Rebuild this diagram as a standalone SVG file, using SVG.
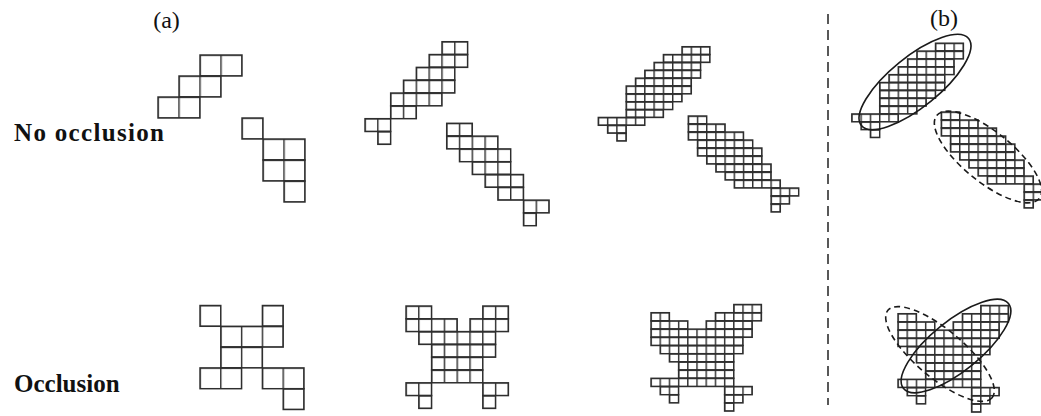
<svg xmlns="http://www.w3.org/2000/svg" xmlns:xlink="http://www.w3.org/1999/xlink" width="1041" height="416" viewBox="0 0 1041 416">
<style>
.cells rect{stroke:#2e2e2e;stroke-width:1.45}
.gl{stroke:#2e2e2e;stroke-width:1.45;fill:none}
.ell{fill:none;stroke:#1a1a1a;stroke-width:1.6}
.dash{stroke-dasharray:6 4}
.lbl{font-family:"Liberation Serif","Times New Roman",serif;fill:#111}
</style>
<defs>
<pattern id="p1" patternUnits="userSpaceOnUse" x="157.3" y="54.3" width="21" height="21"><path class="gl" d="M0.7,0V21M0,0.7H21"/></pattern>
<pattern id="p2" patternUnits="userSpaceOnUse" x="199.3" y="304.8" width="20.8" height="20.8"><path class="gl" d="M0.7,0V20.8M0,0.7H20.8"/></pattern>
<pattern id="p3" patternUnits="userSpaceOnUse" x="364.3" y="41" width="12.83" height="12.83"><path class="gl" d="M0.7,0V12.83M0,0.7H12.83"/></pattern>
<pattern id="p4" patternUnits="userSpaceOnUse" x="446" y="122.6" width="12.8" height="12.8"><path class="gl" d="M0.7,0V12.8M0,0.7H12.8"/></pattern>
<pattern id="p5" patternUnits="userSpaceOnUse" x="405.3" y="305.3" width="12.8" height="12.8"><path class="gl" d="M0.7,0V12.8M0,0.7H12.8"/></pattern>
<pattern id="p6" patternUnits="userSpaceOnUse" x="597.6" y="46" width="9.3" height="7.86"><path class="gl" d="M0.7,0V7.86M0,0.7H9.3"/></pattern>
<pattern id="p7" patternUnits="userSpaceOnUse" x="687.6" y="115.3" width="9.2" height="8"><path class="gl" d="M0.7,0V8M0,0.7H9.2"/></pattern>
<pattern id="p8" patternUnits="userSpaceOnUse" x="650.3" y="303.8" width="9.2" height="8.2"><path class="gl" d="M0.7,0V8.2M0,0.7H9.2"/></pattern>
</defs>
<rect width="1041" height="416" fill="#fff"/>

<g id="labels">
<text class="lbl" x="166.5" y="28" font-size="24" text-anchor="middle">(a)</text>
<text class="lbl" x="944" y="26" font-size="24" text-anchor="middle">(b)</text>
<text class="lbl" x="14" y="141" font-size="25" font-weight="bold" textLength="150" lengthAdjust="spacing">No occlusion</text>
<text class="lbl" x="14" y="392" font-size="25" font-weight="bold">Occlusion</text>
</g>

<g id="connectors">
<line x1="828" y1="14" x2="828" y2="405" stroke="#222" stroke-width="1.5" stroke-dasharray="10 6"/>
</g>

<g id="a-top-1" class="cells" fill="url(#p1)">
<rect x="200" y="55" width="42" height="21"/>
<rect x="179" y="76" width="42" height="21"/>
<rect x="158" y="97" width="42" height="21"/>
<rect x="242" y="118" width="21" height="21"/>
<rect x="263" y="139" width="42" height="21"/>
<rect x="263" y="160" width="42" height="21"/>
<rect x="284" y="181" width="21" height="21"/>
</g>

<g id="a-occ-1" class="cells" fill="url(#p2)">
<rect x="200" y="305.5" width="20.8" height="20.8"/>
<rect x="262.4" y="305.5" width="20.8" height="20.8"/>
<rect x="220.8" y="326.3" width="62.4" height="20.8"/>
<rect x="220.8" y="347.1" width="41.6" height="20.8"/>
<rect x="200" y="367.9" width="41.6" height="20.8"/>
<rect x="262.4" y="367.9" width="41.6" height="20.8"/>
<rect x="283.2" y="388.7" width="20.8" height="20.8"/>
</g>

<g id="a-top-2" class="cells">
<g fill="url(#p3)">
<rect x="441.98" y="41.7" width="25.66" height="12.83"/>
<rect x="429.15" y="54.53" width="38.49" height="12.83"/>
<rect x="416.32" y="67.36" width="38.49" height="12.83"/>
<rect x="403.49" y="80.19" width="51.32" height="12.83"/>
<rect x="390.66" y="93.02" width="51.32" height="12.83"/>
<rect x="390.66" y="105.85" width="25.66" height="12.83"/>
<rect x="365" y="118.68" width="25.66" height="12.83"/>
<rect x="377.83" y="131.51" width="12.83" height="12.83"/>
</g>
<g fill="url(#p4)">
<rect x="446.7" y="123.3" width="25.6" height="12.8"/>
<rect x="446.7" y="136.1" width="51.2" height="12.8"/>
<rect x="459.5" y="148.9" width="51.2" height="12.8"/>
<rect x="472.3" y="161.7" width="38.4" height="12.8"/>
<rect x="485.1" y="174.5" width="38.4" height="12.8"/>
<rect x="497.9" y="187.3" width="25.6" height="12.8"/>
<rect x="523.5" y="200.1" width="25.6" height="12.8"/>
<rect x="523.5" y="212.9" width="12.8" height="12.8"/>
</g>
</g>

<g id="a-occ-2" class="cells" fill="url(#p5)">
<rect x="406" y="306" width="25.6" height="12.8"/>
<rect x="482.8" y="306" width="25.6" height="12.8"/>
<rect x="406" y="318.8" width="51.2" height="12.8"/>
<rect x="470" y="318.8" width="38.4" height="12.8"/>
<rect x="418.8" y="331.6" width="76.8" height="12.8"/>
<rect x="431.6" y="344.4" width="64" height="12.8"/>
<rect x="431.6" y="357.2" width="51.2" height="12.8"/>
<rect x="431.6" y="370" width="51.2" height="12.8"/>
<rect x="406" y="382.8" width="25.6" height="12.8"/>
<rect x="482.8" y="382.8" width="25.6" height="12.8"/>
<rect x="418.8" y="395.6" width="12.8" height="12.8"/>
<rect x="482.8" y="395.6" width="12.8" height="12.8"/>
</g>

<g id="a-top-3">
<g id="shapeA3" class="cells" fill="url(#p6)">
<rect x="682" y="46.7" width="27.9" height="7.86"/>
<rect x="663.4" y="54.56" width="46.5" height="7.86"/>
<rect x="654.1" y="62.42" width="46.5" height="7.86"/>
<rect x="644.8" y="70.28" width="55.8" height="7.86"/>
<rect x="635.5" y="78.14" width="55.8" height="7.86"/>
<rect x="626.2" y="86" width="65.1" height="7.86"/>
<rect x="626.2" y="93.86" width="55.8" height="7.86"/>
<rect x="626.2" y="101.72" width="46.5" height="7.86"/>
<rect x="626.2" y="109.58" width="37.2" height="7.86"/>
<rect x="598.3" y="117.44" width="46.5" height="7.86"/>
<rect x="607.6" y="125.3" width="18.6" height="7.86"/>
<rect x="616.9" y="133.16" width="9.3" height="7.86"/>
</g>
<g id="shapeB3" class="cells" fill="url(#p7)">
<rect x="688.3" y="116" width="18.4" height="8"/>
<rect x="688.3" y="124" width="36.8" height="8"/>
<rect x="688.3" y="132" width="55.2" height="8"/>
<rect x="697.5" y="140" width="55.2" height="8"/>
<rect x="697.5" y="148" width="64.4" height="8"/>
<rect x="706.7" y="156" width="55.2" height="8"/>
<rect x="715.9" y="164" width="55.2" height="8"/>
<rect x="725.1" y="172" width="46" height="8"/>
<rect x="734.3" y="180" width="46" height="8"/>
<rect x="771.1" y="188" width="27.6" height="8"/>
<rect x="771.1" y="196" width="18.4" height="8"/>
<rect x="771.1" y="204" width="9.2" height="8"/>
</g>
</g>

<g id="a-occ-3">
<g id="shapeO3" class="cells" fill="url(#p8)">
<rect x="733.8" y="304.5" width="27.6" height="8.2"/>
<rect x="651" y="312.7" width="18.4" height="8.2"/>
<rect x="715.4" y="312.7" width="46" height="8.2"/>
<rect x="651" y="320.9" width="36.8" height="8.2"/>
<rect x="706.2" y="320.9" width="46" height="8.2"/>
<rect x="651" y="329.1" width="101.2" height="8.2"/>
<rect x="651" y="337.3" width="92" height="8.2"/>
<rect x="660.2" y="345.5" width="82.8" height="8.2"/>
<rect x="669.4" y="353.7" width="64.4" height="8.2"/>
<rect x="678.6" y="361.9" width="55.2" height="8.2"/>
<rect x="678.6" y="370.1" width="55.2" height="8.2"/>
<rect x="651" y="378.3" width="82.8" height="8.2"/>
<rect x="660.2" y="386.5" width="18.4" height="8.2"/>
<rect x="724.6" y="386.5" width="27.6" height="8.2"/>
<rect x="669.4" y="394.7" width="9.2" height="8.2"/>
<rect x="724.6" y="394.7" width="18.4" height="8.2"/>
<rect x="724.6" y="402.9" width="9.2" height="8.2"/>
</g>
</g>

<g id="b-top">
<use xlink:href="#shapeA3" href="#shapeA3" transform="translate(253.5,-3.5)"/>
<use xlink:href="#shapeB3" href="#shapeB3" transform="translate(253,-4)"/>
<ellipse class="ell" cx="915" cy="82" rx="69" ry="25" transform="rotate(-39 915 82)"/>
<ellipse class="ell dash" cx="988" cy="157" rx="66" ry="25" transform="rotate(39 988 157)"/>
</g>

<g id="b-occ">
<use xlink:href="#shapeO3" href="#shapeO3" transform="translate(247,1)"/>
<ellipse class="ell" cx="956" cy="346" rx="67.5" ry="25" transform="rotate(-39 956 346)"/>
<ellipse class="ell dash" cx="940" cy="354" rx="68" ry="24" transform="rotate(40 940 354)"/>
</g>
</svg>
